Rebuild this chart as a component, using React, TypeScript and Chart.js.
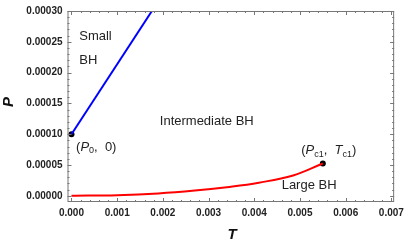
import { useEffect, useRef } from 'react';
import { Chart, registerables } from 'chart.js';
Chart.register(...registerables);

// Data
const blueT = [0, 0.00176];
const blueP = [0.0001, 0.0003];
const redT = [0, 0.001, 0.0019, 0.0027, 0.0034, 0.0041, 0.00485, 0.0055];
const redP = [0, 0.000001, 0.0000038, 0.0000084, 0.000014, 0.0000213, 0.000033, 0.0000524];
const critT = [0, 0.0055];
const critP = [0.0001, 0.0000524];
const xTicks = [0, 0.001, 0.002, 0.003, 0.004, 0.005, 0.006, 0.007];
const yTicks = [0, 0.00005, 0.0001, 0.00015, 0.0002, 0.00025, 0.0003];

const FONT = '"Liberation Sans", Arial, sans-serif';

type Seg = { t: string; i?: boolean; s?: boolean };
const annotations: { x: number; y: number; align: 'left' | 'center'; segs: Seg[] }[] = [
  { x: 0.00017, y: 0.000258, align: 'left', segs: [{ t: 'Small' }] },
  { x: 0.00017, y: 0.000219, align: 'left', segs: [{ t: 'BH' }] },
  { x: 0.00296, y: 0.0001215, align: 'center', segs: [{ t: 'Intermediate BH' }] },
  { x: 0.0001, y: 0.0000793, align: 'left', segs: [{ t: '(' }, { t: 'P', i: true }, { t: '0', s: true }, { t: ',  0)' }] },
  { x: 0.00563, y: 0.0000742, align: 'center', segs: [{ t: '(' }, { t: 'P', i: true }, { t: 'c1', s: true }, { t: ',  ' }, { t: 'T', i: true }, { t: 'c1', s: true }, { t: ')' }] },
  { x: 0.0052, y: 0.0000169, align: 'center', segs: [{ t: 'Large BH' }] },
];

const framePlugin = {
  id: 'framePlugin',
  afterDraw(chart: any) {
    const ctx = chart.ctx as CanvasRenderingContext2D;
    const { left, right, top, bottom } = chart.chartArea;
    const xs = chart.scales.x;
    const ys = chart.scales.y;
    ctx.save();
    ctx.strokeStyle = '#777';
    ctx.lineWidth = 1;
    ctx.strokeRect(left + 0.5, top + 0.5, right - left - 1, bottom - top - 1);
    ctx.beginPath();
    for (let k = 0; k <= 35; k++) {
      const v = k * 0.0002;
      const px = Math.round(xs.getPixelForValue(v)) + 0.5;
      if (px < left || px > right) continue;
      const len = k % 5 === 0 ? 4 : 2;
      ctx.moveTo(px, bottom); ctx.lineTo(px, bottom - len);
      ctx.moveTo(px, top); ctx.lineTo(px, top + len);
    }
    for (let k = 0; k <= 30; k++) {
      const v = k * 0.00001;
      const py = Math.round(ys.getPixelForValue(v)) + 0.5;
      if (py < top || py > bottom) continue;
      const len = k % 5 === 0 ? 4 : 2;
      ctx.moveTo(left, py); ctx.lineTo(left + len, py);
      ctx.moveTo(right, py); ctx.lineTo(right - len, py);
    }
    ctx.stroke();

    // axis titles
    ctx.fillStyle = '#111';
    ctx.textBaseline = 'middle';
    ctx.textAlign = 'center';
    ctx.font = `italic bold 15px ${FONT}`;
    ctx.fillText('T', 232, 235);
    ctx.save();
    ctx.translate(8.5, 102);
    ctx.rotate(-Math.PI / 2);
    ctx.fillText('P', 0, 0);
    ctx.restore();

    // annotations
    ctx.fillStyle = '#222';
    ctx.textAlign = 'left';
    for (const a of annotations) {
      const fontOf = (s: Seg) => `${s.i ? 'italic ' : ''}${s.s ? 9 : 13}px ${FONT}`;
      let w = 0;
      for (const s of a.segs) { ctx.font = fontOf(s); w += ctx.measureText(s.t).width; }
      const px = xs.getPixelForValue(a.x);
      const py = ys.getPixelForValue(a.y);
      let cx = a.align === 'center' ? px - w / 2 : px;
      for (const s of a.segs) {
        ctx.font = fontOf(s);
        ctx.fillText(s.t, cx, s.s ? py + 4 : py);
        cx += ctx.measureText(s.t).width;
      }
    }
    ctx.restore();
  },
};

export default function App() {
  const ref = useRef<HTMLCanvasElement>(null);
  useEffect(() => {
    document.body.style.margin = '0';
    const chart = new Chart(ref.current!, {
      type: 'scatter',
      data: {
        datasets: [
          {
            data: redT.map((t, i) => ({ x: t, y: redP[i] })),
            showLine: true,
            borderColor: '#ff0000',
            borderWidth: 2,
            pointRadius: 0,
            tension: 0.4,
          },
          {
            data: blueT.map((t, i) => ({ x: t, y: blueP[i] })),
            showLine: true,
            borderColor: '#0000ff',
            borderWidth: 2,
            pointRadius: 0,
          },
          {
            data: critT.map((t, i) => ({ x: t, y: critP[i] })),
            showLine: false,
            pointRadius: 3,
            pointBackgroundColor: '#000',
            pointBorderColor: '#000',
            pointBorderWidth: 0,
          },
        ],
      } as any,
      options: {
        animation: false,
        responsive: false,
        layout: { padding: { top: 5, right: 12, left: 0, bottom: 0 } },
        plugins: { legend: { display: false }, tooltip: { enabled: false } },
        scales: {
          x: {
            type: 'linear',
            min: -0.000087,
            max: 0.00706,
            grid: { display: false, drawTicks: false },
            border: { display: false },
            afterBuildTicks: (s: any) => { s.ticks = xTicks.map((v) => ({ value: v })); },
            afterFit: (s: any) => { s.height = 41; },
            ticks: {
              padding: 5,
              color: '#222',
              font: { family: FONT, size: 10, weight: 'bold' },
              maxRotation: 0,
              autoSkip: false,
              callback: (v: any) => Number(v).toFixed(3),
            },
          },
          y: {
            type: 'linear',
            min: -0.0000101,
            max: 0.0003,
            grid: { display: false, drawTicks: false },
            border: { display: false },
            afterBuildTicks: (s: any) => { s.ticks = yTicks.map((v) => ({ value: v })); },
            afterFit: (s: any) => { s.width = 67.5; },
            ticks: {
              padding: 5,
              color: '#222',
              font: { family: FONT, size: 10, weight: 'bold' },
              autoSkip: false,
              callback: (v: any) => Number(v).toFixed(5),
            },
          },
        },
      } as any,
      plugins: [framePlugin],
    });
    return () => chart.destroy();
  }, []);
  return <canvas ref={ref} width={409} height={243} style={{ display: 'block' }} />;
}
